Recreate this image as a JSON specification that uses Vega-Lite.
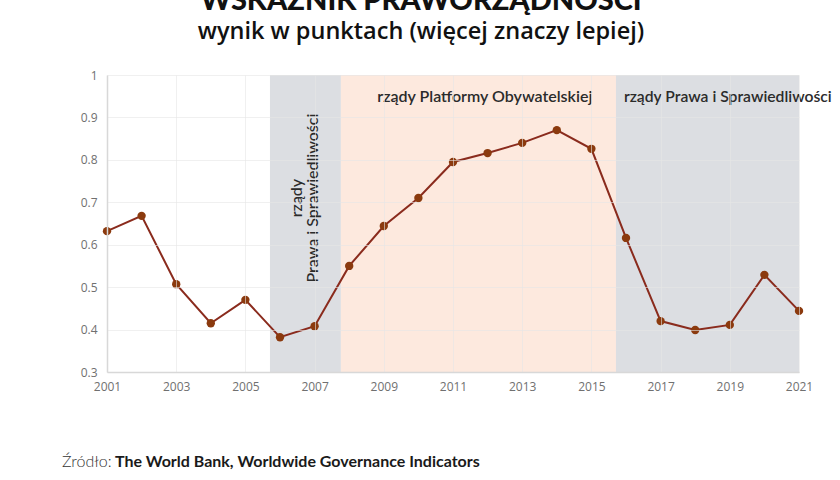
{
  "$schema": "https://vega.github.io/schema/vega-lite/v6.json",
  "autosize": "none",
  "width": 692,
  "height": 297,
  "padding": {"left": 107, "top": 75, "right": 41, "bottom": 108},
  "background": "white",
  "config": {
    "font": "Lato",
    "view": {"stroke": null}
  },
  "title": {
    "text": "WSKAŹNIK PRAWORZĄDNOŚCI",
    "subtitle": "wynik w punktach (więcej znaczy lepiej)",
    "fontSize": 29,
    "fontWeight": 900,
    "color": "#111111",
    "subtitleFont": "Open Sans",
    "subtitleFontSize": 23.5,
    "subtitleFontWeight": 600,
    "subtitleColor": "#111111",
    "subtitlePadding": 4,
    "anchor": "middle",
    "dx": -32,
    "offset": 26
  },
  "datasets": {
    "wgi": [
      {"rok": 2001, "wynik": 0.632},
      {"rok": 2002, "wynik": 0.668},
      {"rok": 2003, "wynik": 0.507},
      {"rok": 2004, "wynik": 0.415},
      {"rok": 2005, "wynik": 0.47},
      {"rok": 2006, "wynik": 0.382},
      {"rok": 2007, "wynik": 0.408},
      {"rok": 2008, "wynik": 0.55},
      {"rok": 2009, "wynik": 0.644},
      {"rok": 2010, "wynik": 0.71},
      {"rok": 2011, "wynik": 0.795},
      {"rok": 2012, "wynik": 0.816},
      {"rok": 2013, "wynik": 0.84},
      {"rok": 2014, "wynik": 0.87},
      {"rok": 2015, "wynik": 0.826},
      {"rok": 2016, "wynik": 0.616},
      {"rok": 2017, "wynik": 0.42},
      {"rok": 2018, "wynik": 0.399},
      {"rok": 2019, "wynik": 0.411},
      {"rok": 2020, "wynik": 0.529},
      {"rok": 2021, "wynik": 0.444}
    ],
    "rzady": [
      {"od": 2005.71, "do": 2007.76, "partia": "PiS"},
      {"od": 2007.76, "do": 2015.71, "partia": "PO"},
      {"od": 2015.71, "do": 2021, "partia": "PiS"}
    ]
  },
  "layer": [
    {
      "data": {"name": "rzady"},
      "mark": {"type": "rect"},
      "encoding": {
        "x": {"field": "od", "type": "quantitative"},
        "x2": {"field": "do"},
        "y": {"datum": 0.3},
        "y2": {"datum": 1},
        "color": {
          "field": "partia",
          "type": "nominal",
          "scale": {"domain": ["PiS", "PO"], "range": ["#dcdee2", "#fde9de"]},
          "legend": null
        }
      }
    },
    {
      "data": {"name": "wgi"},
      "mark": {"type": "line", "color": "#8a2b1d", "strokeWidth": 2},
      "encoding": {
        "x": {
          "field": "rok",
          "type": "quantitative",
          "title": null,
          "scale": {"domain": [2001, 2021], "nice": false, "zero": false},
          "axis": {
            "values": [2001, 2003, 2005, 2007, 2009, 2011, 2013, 2015, 2017, 2019, 2021],
            "format": "d",
            "ticks": false,
            "labelFlush": false,
            "labelPadding": 9,
            "labelFontSize": 12,
            "labelColor": "#707070",
            "labelFont": "Open Sans",
            "domainColor": "#d8d8d8",
            "domainWidth": 1.5,
            "grid": true,
            "gridColor": "#e6e6e6",
            "gridOpacity": 0.6,
            "zindex": 1
          }
        },
        "y": {
          "field": "wynik",
          "type": "quantitative",
          "title": null,
          "scale": {"domain": [0.3, 1], "nice": false, "zero": false},
          "axis": {
            "values": [0.3, 0.4, 0.5, 0.6, 0.7, 0.8, 0.9, 1],
            "format": ".1~f",
            "ticks": false,
            "labelFlush": false,
            "labelPadding": 10,
            "labelFontSize": 12,
            "labelColor": "#707070",
            "labelFont": "Open Sans",
            "domainColor": "#d8d8d8",
            "domainWidth": 1.5,
            "grid": true,
            "gridColor": "#e6e6e6",
            "gridOpacity": 0.6,
            "zindex": 1
          }
        }
      }
    },
    {
      "data": {"name": "wgi"},
      "mark": {"type": "point", "filled": true, "color": "#8b3a0e", "opacity": 1, "size": 70},
      "encoding": {
        "x": {"field": "rok", "type": "quantitative"},
        "y": {"field": "wynik", "type": "quantitative"}
      }
    },
    {
      "data": {"values": [{"t": "rządy Platformy Obywatelskiej", "x": 2011.92, "y": 0.948}]},
      "mark": {"type": "text", "align": "center", "baseline": "middle", "fontSize": 16, "fontWeight": 600, "color": "#2b2b2b"},
      "encoding": {
        "x": {"field": "x", "type": "quantitative"},
        "y": {"field": "y", "type": "quantitative"},
        "text": {"field": "t"}
      }
    },
    {
      "data": {"values": [{"t": "rządy Prawa i Sprawiedliwości", "x": 2015.94, "y": 0.948}]},
      "mark": {"type": "text", "align": "left", "baseline": "middle", "fontSize": 15.7, "fontWeight": 600, "color": "#2b2b2b"},
      "encoding": {
        "x": {"field": "x", "type": "quantitative"},
        "y": {"field": "y", "type": "quantitative"},
        "text": {"field": "t"}
      }
    },
    {
      "data": {"values": [{"x": 2006.5, "y": 0.71}]},
      "mark": {"type": "text", "align": "center", "baseline": "middle", "angle": 270, "fontSize": 16, "fontWeight": 500, "color": "#2b2b2b", "lineHeight": 16},
      "encoding": {
        "x": {"field": "x", "type": "quantitative"},
        "y": {"field": "y", "type": "quantitative"},
        "text": {"value": ["rządy", "Prawa i Sprawiedliwości"]}
      }
    },
    {
      "data": {"values": [{"a": "Źródło:", "b": "The World Bank, Worldwide Governance Indicators"}]},
      "layer": [
        {
          "mark": {"type": "text", "align": "left", "baseline": "middle", "fontSize": 16, "fontWeight": 300, "color": "#333333", "x": -45, "y": 387},
          "encoding": {"text": {"field": "a"}}
        },
        {
          "mark": {"type": "text", "align": "left", "baseline": "middle", "fontSize": 16, "fontWeight": "bold", "color": "#1a1a1a", "x": 8, "y": 387},
          "encoding": {"text": {"field": "b"}}
        }
      ]
    }
  ]
}
